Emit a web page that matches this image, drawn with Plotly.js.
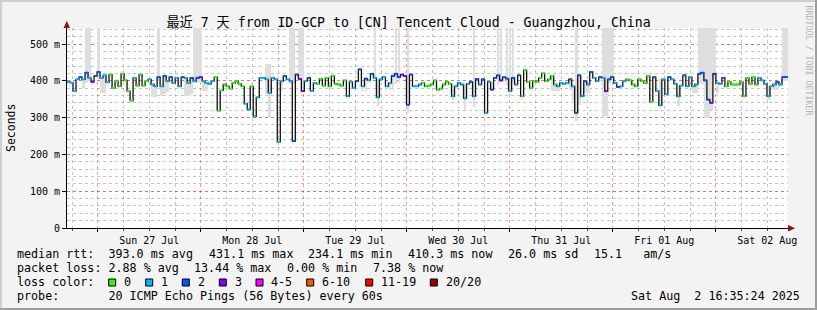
<!DOCTYPE html>
<html>
<head>
<meta charset="utf-8">
<script src="https://cdn.plot.ly/plotly-3.0.1.min.js"></script>
<style>html,body{margin:0;padding:0;background:#f3f3f3;}#chart{width:817px;height:310px;}</style>
</head>
<body>
<div id="chart"></div>
<script>
// ---------- DATA ----------
const startTime = '2025-07-26 16:50:00';
const stepMinutes = 42;
// median RTT (ms) per 42-minute bin
const medianMs = [
 397,395,372,404,410,404,422,408,397,413, 424,408,415,396,417,381,399,385,419,401,
 372,346,408,387,417,387,399,404,390,385, 410,385,413,399,410,394,408,385,410,408,
 394,408,399,408,410,399,394,392,399,410, 319,374,390,385,379,394,399,392,385,338,
 322,385,303,355,408,408,404,367,408,404, 234.1,399,413,404,399,236,417,405,372,399,
 408,373,394,392,405,387,408,385,413,392, 390,387,401,358,397,381,399,431.1,385,406,
 401,419,408,355,404,410,385,394,413,419, 410,417,413,335,417,385,385,390,394,385,
 387,390,401,376,379,390,397,392,358,385, 394,390,352,392,397,358,405,390,404,313,
 397,376,408,415,401,410,406,372,408,390, 415,358,429,397,381,399,397,408,420,399,
 404,413,390,385,394,392,394,404,385,313, 415,358,399,390,424,408,399,410,408,372,
 404,410,394,383,385,399,404,401,390,385, 404,399,394,413,343,410,372,333,404,363,
 410,404,392,358,387,415,385,410,385,390, 419,422,401,349,340,419,394,392,408,385,
 397,390,390,390,397,358,408,392,410,390, 408,401,392,358,385,390,397,390,410,410.3
];
// lost pings (of 20) per bin
const lossCount = [
 1,1,1,1,2,1,2,1,3,2, 2,1,1,1,0,0,0,0,0,0,
 0,0,1,0,0,0,0,1,1,1, 2,1,2,1,2,1,1,1,2,1,
 1,2,1,2,3,1,1,1,1,0, 0,0,0,0,0,0,0,0,0,1,
 1,0,1,1,1,1,1,1,1,1, 1,1,2,1,1,2,2,3,3,1,
 2,1,1,0,0,0,0,0,0,0, 0,0,0,1,1,1,2,2,1,2,
 1,2,1,1,1,1,1,1,2,2, 2,3,3,2,2,1,1,1,0,0,
 0,0,0,0,0,0,0,0,1,1, 1,1,1,1,2,1,2,1,2,1,
 1,2,2,2,3,2,2,1,2,1, 2,0,0,0,0,0,0,0,0,0,
 0,0,0,1,1,1,1,2,1,2, 2,1,2,1,2,1,1,2,1,3,
 2,2,1,2,1,1,0,0,0,0, 0,0,0,0,0,2,1,1,1,1,
 2,1,1,1,1,2,1,1,1,1, 2,2,2,2,3,3,1,1,2,0,
 0,0,0,0,0,0,0,0,0,0, 1,1,1,1,1,1,2,1,2,2
];
// visible smoke (spread of individual pings), sparse: bin index, low ms, high ms
const smokeBin = [5,6,7,10,11,12,28,29,30,31,32,33,39,40,41,42,43,44,45,46,66,67,71,74,75,77,78,98,99,102,103,106,107,108,109,110,113,128,132,135,141,143,144,146,147,148,161,162,163,167,168,169,170,172,173,178,179,180,181,197,203,208,209,210,211,212,213,214,215,216,233,235,236,238,239];
const smokeLow = [380,395,400,405,366,366,357,357,400,360,365,370,358,358,365,395,395,400,372,372,365,303,372,390,395,400,372,372,372,405,331,375,375,376,390,395,313,349,322,330,372,390,395,385,372,395,372,372,372,375,340,290,335,368,368,300,305,395,400,331,331,368,368,395,390,300,300,320,405,368,349,375,375,400,400];
const smokeHigh = [404,600,600,600,408,415,390,385,600,385,413,399,408,394,408,600,600,600,399,394,445,445,399,600,600,600,600,385,406,600,404,385,394,413,600,600,600,390,392,600,397,600,600,600,600,600,413,390,385,404,385,600,415,399,390,600,600,600,600,404,387,385,390,600,600,600,600,600,600,394,385,390,397,600,600];
const lossLabels = ['0','1','2','3','4-5','6-10','11-19','20/20'];
const lossColors = ['#26ff00','#00b8ff','#0059ff','#7e00ff','#ff00ff','#ff5500','#ff0000','#a10000'];
const yTickVals = [0,100,200,300,400,500];
const yTickText = ['0','100 m','200 m','300 m','400 m','500 m'];
const statsMedian = ['median rtt:  393.0 ms avg','431.1 ms max','234.1 ms min','410.3 ms now','26.0 ms sd','15.1   am/s'];
const statsLoss = ['packet loss: 2.88 % avg','13.44 % max','0.00 % min','7.38 % now'];
const probeText = 'probe:       20 ICMP Echo Pings (56 Bytes) every 60s';
const stampText = 'Sat Aug  2 16:35:24 2025';
const titleText = '最近 7 天 from ID-GCP to [CN] Tencent Cloud - Guangzhou, China';

// ---------- BUILD ----------
const stepMs = stepMinutes*60000;
const t0 = Date.parse(startTime.replace(' ','T')+'Z');
const toStr = ms => new Date(ms).toISOString().replace('T',' ').slice(0,19);
const N = medianMs.length;
const edges = [];
for (let i=0;i<=N;i++) edges.push(toStr(t0+i*stepMs));

const traces = [];
// smoke
traces.push({
  type:'bar', x: smokeBin.map(i=>toStr(t0+(i+0.5)*stepMs)),
  base: smokeLow, y: smokeHigh.map((h,k)=>h-smokeLow[k]),
  width: smokeBin.map(()=>stepMs*0.9), marker:{color:'#dedede', line:{width:0}},
  hoverinfo:'skip', showlegend:false
});
// median step line (vertical connectors)
traces.push({
  type:'scatter', mode:'lines', x: edges, y: medianMs.concat([medianMs[N-1]]),
  line:{color:'#111111', width:1.3, shape:'hv'}, hoverinfo:'skip', showlegend:false
});
// colored segments by loss
function lossIdx(c){ if(c<=3) return c; if(c<=5) return 4; if(c<=10) return 5; if(c<=19) return 6; return 7; }
for (let k=0;k<lossColors.length;k++){
  const xs=[], ys=[];
  for (let i=0;i<N;i++){ if(lossIdx(lossCount[i])===k){ xs.push(edges[i],edges[i+1],null); ys.push(medianMs[i],medianMs[i],null);} }
  if (xs.length) traces.push({type:'scatter',mode:'lines',x:xs,y:ys,line:{color:lossColors[k],width:2},hoverinfo:'skip',showlegend:false,connectgaps:false});
}

// ---------- LAYOUT ----------
const L=67, R=788, T=28, B=228, W=R-L, H=B-T;
const px = x => (x-L)/W, py = y => (B-y)/H;
const mono = "'DejaVu Sans Mono','Noto Sans CJK SC',monospace";
const nb = s => s.replace(/ /g,'\u00a0');
const ann = [];
function txt(s,x,y,opts){ ann.push(Object.assign({text:nb(s),xref:'paper',yref:'paper',x:px(x),y:py(y),xanchor:'left',yanchor:'middle',showarrow:false,borderpad:0,font:{family:mono,size:11.7,color:'#000'}},opts||{})); }
const charW = 7.05, gap = 15.3;
let cx = 16;
statsMedian.forEach(s=>{ txt(s,cx,254.3); cx += s.length*charW+gap; });
cx = 16;
statsLoss.forEach(s=>{ txt(s,cx,268.3); cx += s.length*charW+gap; });
txt('loss color:',16,282.3);
const boxX = [108.7,145.7,182.3,219.3,256,306.7,365.7,430.3];
const shapes = [];
lossLabels.forEach((l,k)=>{
  shapes.push({type:'rect',xref:'paper',yref:'paper',x0:px(boxX[k]),x1:px(boxX[k]+7),y0:py(286),y1:py(279),fillcolor:lossColors[k],line:{color:'#000',width:1}});
  txt(l,boxX[k]+14.3,282.3);
});
txt(probeText,16,296);
txt(stampText,801,296,{xanchor:'right'});
ann.push({text:'Seconds',xref:'paper',yref:'paper',x:px(11),y:py(128),xanchor:'center',yanchor:'middle',textangle:-90,showarrow:false,font:{family:mono,size:11.5,color:'#000'}});
ann.push({text:nb('RRDTOOL / TOBI OETIKER'),xref:'paper',yref:'paper',x:px(808.5),y:py(60),xanchor:'center',yanchor:'middle',textangle:90,showarrow:false,font:{family:mono,size:8.3,color:'#b4b4b4'}});

// frame
shapes.push({type:'rect',xref:'paper',yref:'paper',x0:px(0),x1:px(817),y0:py(2),y1:py(0),fillcolor:'#cfcfcf',line:{width:0},layer:'below'});
shapes.push({type:'rect',xref:'paper',yref:'paper',x0:px(0),x1:px(2),y0:py(310),y1:py(0),fillcolor:'#cfcfcf',line:{width:0},layer:'below'});
shapes.push({type:'rect',xref:'paper',yref:'paper',x0:px(0),x1:px(817),y0:py(310),y1:py(308),fillcolor:'#9e9e9e',line:{width:0}});
shapes.push({type:'rect',xref:'paper',yref:'paper',x0:px(815),x1:px(817),y0:py(310),y1:py(0),fillcolor:'#9e9e9e',line:{width:0}});
// axis arrows
shapes.push({type:'path',xref:'paper',yref:'paper',path:`M ${px(788)},${py(225)} L ${px(788)},${py(231.5)} L ${px(795)},${py(228.3)} Z`,fillcolor:'#8f1010',line:{width:0}});
shapes.push({type:'path',xref:'paper',yref:'paper',path:`M ${px(63.5)},${py(28)} L ${px(70)},${py(28)} L ${px(66.8)},${py(21)} Z`,fillcolor:'#8f1010',line:{width:0}});

const layout = {
  width:817, height:310, margin:{l:L,r:817-R,t:T,b:310-B,pad:0},
  paper_bgcolor:'#f3f3f3', plot_bgcolor:'#ffffff', showlegend:false, bargap:0, barmode:'overlay',
  title:{text:titleText, font:{family:mono,size:13.2,color:'#000'}, x:0.5, xanchor:'center', xref:'container', y:1-22/310, yanchor:'middle', yref:'container'},
  xaxis:{type:'date', range:[edges[0],edges[N]], dtick:86400000, tick0:'2025-07-27 00:00:00', ticklabelmode:'period', tickformat:'%a %d %b',
    showgrid:true, gridcolor:'rgba(255,0,0,0.4)', griddash:'dot', gridwidth:1,
    minor:{dtick:21600000, showgrid:true, gridcolor:'rgba(150,150,150,0.55)', griddash:'dot', ticks:'outside', ticklen:2, tickcolor:'#555'},
    showline:true, linecolor:'#000', linewidth:1, ticks:'outside', ticklen:3, tickcolor:'#000', zeroline:false,
    tickfont:{family:mono,size:10,color:'#000'}, fixedrange:true},
  yaxis:{range:[0,543.5], tickvals:yTickVals, ticktext:yTickText, showgrid:true, gridcolor:'rgba(255,0,0,0.4)', griddash:'dot', gridwidth:1,
    minor:{dtick:20, showgrid:true, gridcolor:'rgba(150,150,150,0.55)', griddash:'dot'},
    showline:true, linecolor:'#000', linewidth:1, ticks:'outside', ticklen:4, tickcolor:'#000', zeroline:false,
    tickfont:{family:mono,size:10,color:'#000'}, fixedrange:true},
  annotations:ann, shapes:shapes
};
Plotly.newPlot('chart', traces, layout, {displayModeBar:false, staticPlot:true});
</script>
</body>
</html>
